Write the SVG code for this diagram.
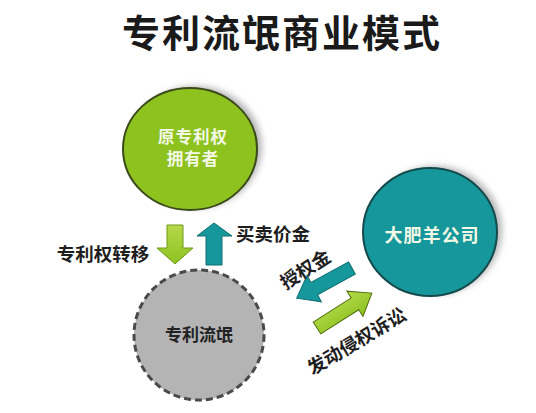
<svg xmlns="http://www.w3.org/2000/svg" width="536" height="413" viewBox="0 0 536 413">
<defs>
<style>
text{font-family:"Noto Sans CJK SC","Noto Sans",sans-serif;font-weight:bold;text-anchor:middle}
.lbl{font-size:18.5px;fill:#1e1e1e}
.wt{font-size:17px;fill:#f4f8e6;letter-spacing:1px}
</style>
<filter id="blur" x="-20%" y="-20%" width="140%" height="140%"><feGaussianBlur stdDeviation="3"/></filter>
<linearGradient id="gg" x1="0" y1="0" x2="0" y2="1"><stop offset="0" stop-color="#b5d94a"/><stop offset="1" stop-color="#8cc21f"/></linearGradient>
</defs>
<rect width="536" height="413" fill="#ffffff"/>
<text x="282" y="47" style="font-size:38px;fill:#1a1a1a;letter-spacing:2px">专利流氓商业模式</text>

<g id="owner">
<ellipse cx="196" cy="147" rx="66" ry="61" fill="#b8b8b8" filter="url(#blur)"/>
<ellipse cx="190" cy="149" rx="67" ry="61" fill="#8dc21f" stroke="#3a4a1a" stroke-width="2"/>
<text class="wt" x="193" y="143" style="font-size:16.5px">原专利权</text>
<text class="wt" x="193" y="165" style="font-size:16.5px">拥有者</text>
</g>

<g id="company">
<ellipse cx="436" cy="230" rx="66" ry="64" fill="#b8b8b8" filter="url(#blur)"/>
<ellipse cx="430" cy="232" rx="67" ry="64" fill="#16979b" stroke="#154a4c" stroke-width="2"/>
<text class="wt" x="432" y="242" style="font-size:18px">大肥羊公司</text>
</g>

<g id="troll">
<circle cx="199" cy="335" r="65" fill="#b4b4b4" stroke="#4a4a4a" stroke-width="3" stroke-dasharray="7 4"/>
<text x="199" y="341" style="font-size:17px;fill:#222">专利流氓</text>
</g>

<g id="connectors">
<polygon points="167,225 183,225 183,248 193,248 175,264 157,248 167,248" fill="url(#gg)" stroke="#6f9a18" stroke-width="1"/>
<polygon points="206,265 222,265 222,236 232,236 214,223 197,236 206,236" fill="#16979b" stroke="#0f6e70" stroke-width="1"/>
<g transform="translate(352,268) rotate(151.4)">
<polygon points="0,-7 43,-7 43,-15 63,0 43,15 43,7 0,7" fill="#16979b" stroke="#0f6e70" stroke-width="1"/>
</g>
<g transform="translate(317,328) rotate(-32.5)">
<polygon points="0,-7 45,-7 45,-15 65,0 45,15 45,7 0,7" fill="url(#gg)" stroke="#4f6e10" stroke-width="1"/>
</g>
<text class="lbl" x="103" y="261">专利权转移</text>
<text class="lbl" x="273" y="241">买卖价金</text>
<text class="lbl" transform="translate(309,275) rotate(-33)">授权金</text>
<text class="lbl" transform="translate(360,347) rotate(-31)">发动侵权诉讼</text>
</g>
</svg>
